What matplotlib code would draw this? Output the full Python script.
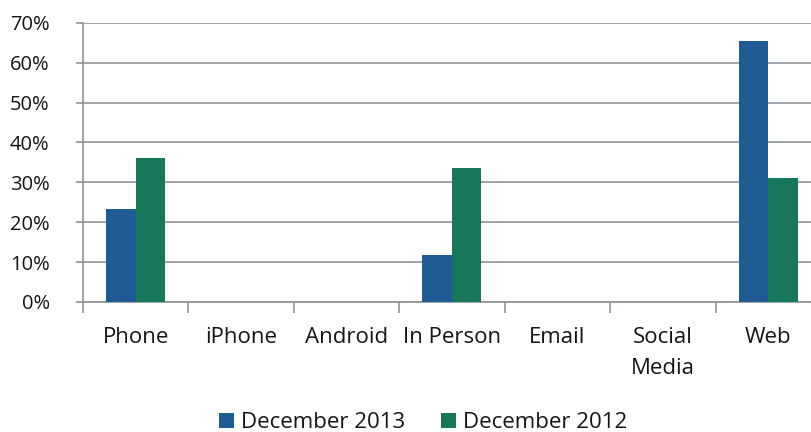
import matplotlib
matplotlib.use("Agg")
import matplotlib.pyplot as plt
import numpy as np
from matplotlib.ticker import FuncFormatter, FixedLocator

categories = ["Phone", "iPhone", "Android", "In Person", "Email", "Social\nMedia", "Web"]
dec_2013 = [23.3, 0, 0, 11.8, 0, 0, 65.5]
dec_2012 = [36.1, 0, 0, 33.6, 0, 0, 31.2]

blue = "#1f5c94"
green = "#17775a"
grid_color = "#8d9598"
text_color = "#151515"

plt.rcParams["font.family"] = ["Open Sans", "DejaVu Sans"]

fig = plt.figure(figsize=(8.11, 4.32), dpi=100)
ax = fig.add_axes([0.1023, 0.301, 0.91, 0.646])

x = np.arange(len(categories))
w = 0.28
ax.bar(x - w / 2, dec_2013, w, color=blue, label="December 2013", zorder=3)
ax.bar(x + w / 2, dec_2012, w, color=green, label="December 2012", zorder=3)

ax.set_xlim(-0.5, len(categories) - 0.5)
ax.set_ylim(0, 70)
ax.set_yticks(range(0, 71, 10))
ax.yaxis.set_major_formatter(FuncFormatter(lambda v, p: f"{v:.0f}%"))
ax.grid(axis="y", color=grid_color, linewidth=1.2, zorder=0)

# category labels sit between the boundary ticks
ax.set_xticks(x)
ax.set_xticklabels(categories, fontsize=16, color=text_color, linespacing=1.62)
ax.tick_params(axis="x", which="major", length=0, pad=18)
ax.xaxis.set_minor_locator(FixedLocator(np.arange(-0.5, len(categories), 1)))
ax.tick_params(axis="x", which="minor", length=8, color=grid_color, width=1.2)
ax.tick_params(axis="y", length=5, color=grid_color, width=1.2, labelsize=14.5,
               labelcolor=text_color, pad=19)

for side in ["top", "right"]:
    ax.spines[side].set_visible(False)
ax.spines["left"].set_color(grid_color)
ax.spines["bottom"].set_color(grid_color)
ax.spines["left"].set_linewidth(1.2)
ax.spines["bottom"].set_linewidth(1.2)

fig.legend(loc="center", bbox_to_anchor=(0.522, 0.022), ncol=2, frameon=False,
           fontsize=16, handlelength=0.65, handleheight=0.65, handletextpad=0.35,
           columnspacing=1.6, labelcolor=text_color)

fig.savefig("out.png", dpi=100)
